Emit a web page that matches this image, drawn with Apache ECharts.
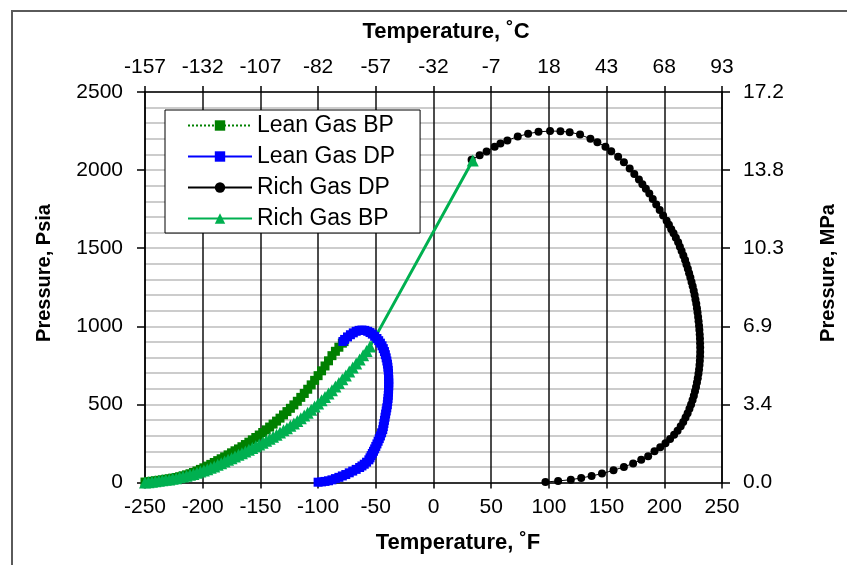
<!DOCTYPE html>
<html>
<head>
<meta charset="utf-8">
<script src="https://cdn.jsdelivr.net/npm/echarts@6/dist/echarts.min.js"></script>
<style>
html,body{margin:0;padding:0;background:#fff;}
#chart{width:847px;height:565px;}
</style>
</head>
<body>
<div id="chart"></div>
<script>
// ---- Data (temperature in °F, pressure in psia) ----
var leanBpTemp = [-250,-247,-244,-241,-238,-235,-232,-229,-226,-223,-220,-217,-214,-211,-208,-205,-202,-199,-196,-193,-190,-187,-184,-181,-178,-175,-172,-169,-166,-163,-160,-157,-154,-151,-148,-145,-142,-139,-136,-133,-130,-127,-124,-121,-118,-115,-112,-109,-106,-103,-100,-97,-94,-91,-88,-85,-82,-79,-77.5];
var leanBpPres = [3,5,8,11,14,17,21,24,28,32,37,43,49,56,64,74,84,94,105,116,128,140,152,164,177,190,203,215,229,243,258,273,288,304,320,337,355,374,393,412,433,454,475,497,520,545,570,597,625,654,684,715,746,779,812,840,866,892,902];

var leanDpTemp = [-100,-97,-94,-91,-88,-85,-82,-79,-76,-73,-70,-67,-64,-62,-60,-58,-56,-55,-54,-53,-52,-51,-50,-49,-48,-47,-46,-45,-44,-43.5,-43,-42.5,-42,-41.5,-41,-40.5,-40,-39.7,-39.4,-39.2,-39,-38.9,-38.8,-38.8,-38.8,-38.9,-39,-39.2,-39.5,-39.9,-40.4,-41,-41.7,-42.5,-43.5,-44.6,-46,-47.5,-49,-51,-53,-55,-57,-59.5,-62,-64.5,-67,-69.5,-72,-74.5,-77,-78.5];
var leanDpPres = [2,4,7,11,17,25,33,42,51,62,73,84,96,106,117,130,145,158,172,186,200,215,231,247,264,281,298,318,338,358,378,398,418,438,458,478,498,518,538,558,578,598,618,638,658,678,698,718,738,758,778,798,818,838,857,875,892,908,922,936,950,960,968,974,976,974,968,958,946,932,916,903];

var richDpTemp = [33,40,46,53,58,64,73,82,91,101,110,118,127,136,142,149,154,160,165,170,174,178,181,184,187,190,193,196,199,202,204,206,208,210,212,213.5,215,216.5,218,219.2,220.4,221.5,222.6,223.6,224.6,225.5,226.3,227,227.7,228.3,228.8,229.3,229.7,230.1,230.4,230.7,230.9,231,231.1,231.1,231,230.8,230.5,230.1,229.6,229,228.3,227.5,226.6,225.6,224.5,223.2,221.8,220.2,218.4,216.4,214.2,211.5,208.5,205,201,196.5,191.5,186,180,173,165,156,146,137,128,119,108,97];
var richDpPres = [2066,2095,2119,2150,2170,2190,2215,2233,2245,2250,2249,2243,2228,2200,2178,2150,2120,2085,2050,2010,1975,1940,1910,1880,1850,1815,1780,1745,1710,1675,1650,1622,1595,1567,1538,1510,1482,1453,1424,1396,1368,1340,1312,1284,1256,1228,1200,1172,1144,1116,1088,1060,1032,1004,976,948,920,892,864,836,808,780,752,724,696,668,640,612,584,556,528,500,472,444,416,388,360,332,305,278,252,226,200,168,145,122,100,78,57,42,29,18,10,3];

var richBpTemp = [-250,-247,-244,-241,-238,-235,-232,-229,-226,-223,-220,-217,-214,-211,-208,-205,-202,-199,-196,-193,-190,-187,-184,-181,-178,-175,-172,-169,-166,-163,-160,-157,-154,-151,-148,-145,-142,-139,-136,-133,-130,-127,-124,-121,-118,-115,-112,-109,-106,-103,-100,-97,-94,-91,-88,-85,-82,-79,-76,-73,-70,-67,-64,-61,-58,-55,34];
var richBpPres = [0,2,5,8,11,14,17,20,24,28,33,38,43,49,55,62,70,77,85,94,103,113,123,134,145,156,167,178,188,199,210,221,232,243,255,267,280,293,306,320,334,348,363,378,394,411,429,447,466,486,506,526,547,569,591,614,637,661,685,710,736,762,788,815,842,870,2062];

// Axis tick labels
var fTicks = [-250,-200,-150,-100,-50,0,50,100,150,200,250];
var cLabels = ['-157','-132','-107','-82','-57','-32','-7','18','43','68','93'];
var psiTicks = [0,500,1000,1500,2000,2500];
var mpaLabels = ['0.0','3.4','6.9','10.3','13.8','17.2'];

var seriesNames = ['Lean Gas BP','Lean Gas DP','Rich Gas DP','Rich Gas BP'];

function pairs(xs, ys){ var o=[]; for(var i=0;i<xs.length;i++){ o.push([xs[i], ys[i]]); } return o; }

var FONT = '"Liberation Sans", Arial, sans-serif';
var xMin = fTicks[0], xMax = fTicks[fTicks.length-1], xStep = fTicks[1]-fTicks[0];
var yMin = psiTicks[0], yMax = psiTicks[psiTicks.length-1], yStep = psiTicks[1]-psiTicks[0];

var chart = echarts.init(document.getElementById('chart'), null, {renderer:'canvas'});
var tickLabelStyle = {fontSize:21, fontFamily:FONT, color:'#000'};
var axisLineBlack = {show:true, onZero:false, lineStyle:{color:'#000', width:1.5}};

chart.setOption({
  animation:false,
  backgroundColor:'#fff',
  grid:{left:145, right:125, top:92, bottom:82.5, containLabel:false},
  graphic:[
    {type:'rect', shape:{x:12, y:11, width:1000, height:1000}, style:{fill:'none', stroke:'#5a5a5a', lineWidth:2}, silent:true, z:-10},
    {type:'text', x:446, y:32, style:{text:'Temperature, ˚C', fontSize:22, fontWeight:'bold', fontFamily:FONT, fill:'#000', align:'center', verticalAlign:'middle'}},
    {type:'text', x:458, y:543, style:{text:'Temperature, ˚F', fontSize:22, fontWeight:'bold', fontFamily:FONT, fill:'#000', align:'center', verticalAlign:'middle'}},
    {type:'text', x:44, y:273, rotation:Math.PI/2, style:{text:'Pressure, Psia', fontSize:20, fontWeight:'bold', fontFamily:FONT, fill:'#000', align:'center', verticalAlign:'middle'}},
    {type:'text', x:828, y:273, rotation:Math.PI/2, style:{text:'Pressure, MPa', fontSize:20, fontWeight:'bold', fontFamily:FONT, fill:'#000', align:'center', verticalAlign:'middle'}}
  ],
  legend:{
    show:true, orient:'vertical', left:165, top:110,
    data:seriesNames,
    itemWidth:64, itemHeight:13, itemGap:8,
    padding:[4,25,3,22],
    backgroundColor:'#fff', borderColor:'#000', borderWidth:1,
    textStyle:{fontSize:23, fontFamily:FONT, color:'#000'}
  },
  xAxis:[
    {type:'value', position:'bottom', min:xMin, max:xMax, interval:xStep,
     axisLine:axisLineBlack, axisTick:{show:true, length:6, lineStyle:{color:'#000', width:1.5}},
     axisLabel:Object.assign({margin:14, formatter:function(v){ return String(v); }}, tickLabelStyle),
     splitLine:{show:true, lineStyle:{color:'#111', width:1.5}}},
    {type:'value', position:'top', min:xMin, max:xMax, interval:xStep,
     axisLine:axisLineBlack, axisTick:{show:true, length:6, lineStyle:{color:'#000', width:1.5}},
     axisLabel:Object.assign({margin:14, formatter:function(v){ return cLabels[Math.round((v-xMin)/xStep)]; }}, tickLabelStyle),
     splitLine:{show:false}}
  ],
  yAxis:[
    {type:'value', position:'left', min:yMin, max:yMax, interval:yStep,
     axisLine:axisLineBlack, axisTick:{show:true, length:8, lineStyle:{color:'#000', width:1.5}},
     axisLabel:Object.assign({margin:22, formatter:function(v){ return String(v); }}, tickLabelStyle),
     minorTick:{show:false, splitNumber:5},
     splitLine:{show:true, lineStyle:{color:'#bcbcbc', width:1.5}},
     minorSplitLine:{show:true, lineStyle:{color:'#bcbcbc', width:1.5}}},
    {type:'value', position:'right', min:yMin, max:yMax, interval:yStep,
     axisLine:axisLineBlack, axisTick:{show:true, length:8, lineStyle:{color:'#000', width:1.5}},
     axisLabel:Object.assign({margin:21, formatter:function(v){ return mpaLabels[Math.round((v-yMin)/yStep)]; }}, tickLabelStyle),
     splitLine:{show:false}}
  ],
  series:[
    {name:seriesNames[0], type:'line', xAxisIndex:0, yAxisIndex:0, data:pairs(leanBpTemp, leanBpPres),
     symbol:'rect', symbolSize:9, showAllSymbol:true,
     lineStyle:{color:'#008000', width:1, type:'dotted'}, itemStyle:{color:'#008000'}},
    {name:seriesNames[1], type:'line', xAxisIndex:0, yAxisIndex:0, data:pairs(leanDpTemp, leanDpPres),
     symbol:'rect', symbolSize:9, showAllSymbol:true,
     lineStyle:{color:'#0000ff', width:1.5}, itemStyle:{color:'#0000ff'}},
    {name:seriesNames[2], type:'line', xAxisIndex:0, yAxisIndex:0, data:pairs(richDpTemp, richDpPres),
     symbol:'circle', symbolSize:8, showAllSymbol:true,
     lineStyle:{color:'#000', width:1}, itemStyle:{color:'#000'}},
    {name:seriesNames[3], type:'line', xAxisIndex:0, yAxisIndex:0, data:pairs(richBpTemp, richBpPres),
     symbol:'triangle', symbolSize:12, showAllSymbol:true,
     lineStyle:{color:'#00b050', width:3}, itemStyle:{color:'#00b050'}}
  ]
});
</script>
</body>
</html>
